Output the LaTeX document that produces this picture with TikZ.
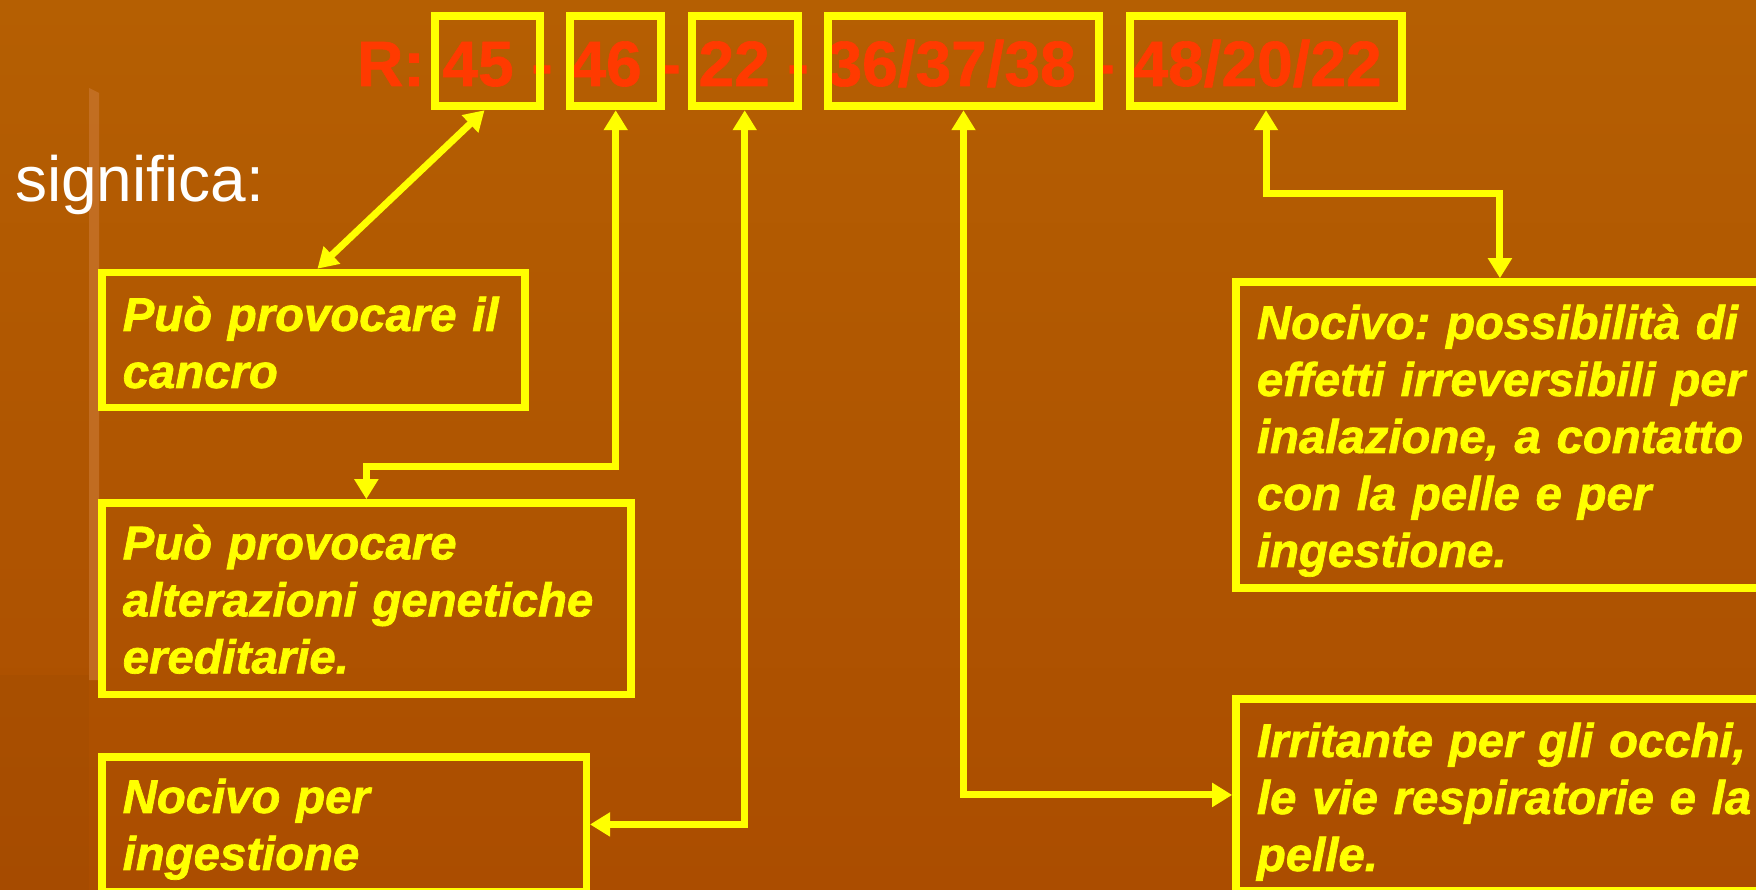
\documentclass[tikz,border=0pt]{standalone}
\usepackage{fontspec}
\setmainfont{Liberation Sans}[BoldFont={Liberation Sans Bold}, ItalicFont={Liberation Sans Italic}, BoldItalicFont={Liberation Sans Bold Italic}]
\newfontfamily\boxfont{Liberation Sans Bold Italic}[FakeBold=1.5]
\newfontfamily\codefont{Liberation Sans Bold}[FakeBold=1]
\usetikzlibrary{arrows.meta}
\definecolor{bgtop}{HTML}{B55F02}
\definecolor{bgbot}{HTML}{AB4D00}
\definecolor{ylw}{HTML}{FFFF00}
\definecolor{rcode}{HTML}{FF3A00}
\definecolor{stripe}{HTML}{C8742C}
\tikzset{
  codebox/.style={draw=ylw, line width=8pt, minimum height=90.5pt, inner sep=0pt},
  descbox/.style={draw=ylw, line width=7.5pt, align=left, inner xsep=21pt, inner ysep=0pt,
    anchor=north west, text=ylw, font=\boxfont\fontsize{47.3}{57}\selectfont\frenchspacing},
  link/.style={draw=ylw, line width=7pt,
    {Triangle[length=20pt,width=23pt]}-{Triangle[length=20pt,width=23pt]}}
}
\begin{document}
\begin{tikzpicture}[x=1pt,y=-1pt]
\useasboundingbox (0,0) rectangle (1756,890);
% background
\shade[top color=bgtop, bottom color=bgbot] (0,0) rectangle (1756,890);
\fill[black, opacity=0.025] (0,675) rectangle (89,890);
\fill[stripe, opacity=0.75] (89,88) -- (99,93) -- (99,680) -- (89,680) -- cycle;

% title line
\node[anchor=base west, inner sep=0pt, text=rcode,
      font=\codefont\fontsize{64}{64}\selectfont] (code) at (357,86)
      {R: 45 - 46 - 22 - 36/37/38 - 48/20/22};
\node[anchor=base west, inner sep=0pt, text=white,
      font=\fontsize{64}{64}\selectfont] (sig) at (15,201.7) {significa:};

% code boxes
\node[codebox, minimum width=105pt]   (b45) at (487.5,61) {};
\node[codebox, minimum width=91pt]    (b46) at (615.7,61) {};
\node[codebox, minimum width=106pt]   (b22) at (744.7,61) {};
\node[codebox, minimum width=271.5pt] (b36) at (963.5,61) {};
\node[codebox, minimum width=271.6pt] (b48) at (1266,61) {};

% description boxes
\node[descbox, text width=381.4pt, text height=58.5pt, text depth=76.7pt] (A) at (98,268.7)
  {\mbox{Può provocare il}\\\mbox{cancro}};
\node[descbox, text width=487.2pt, text height=56.4pt, text depth=135.1pt] (B) at (98,499.2)
  {\mbox{Può provocare}\\\mbox{alterazioni genetiche}\\\mbox{ereditarie.}};
\node[descbox, text width=442.5pt, text height=56pt, text depth=79pt] (C) at (98,753.2)
  {\mbox{Nocivo per}\\\mbox{ingestione}};
\node[descbox, text width=486pt, text height=57pt, text depth=249pt] (D) at (1232.2,278.2)
  {\mbox{Nocivo: possibilità di}\\\mbox{effetti irreversibili per}\\\mbox{inalazione, a contatto}\\\mbox{con la pelle e per}\\\mbox{ingestione.}};
\node[descbox, text width=486pt, text height=58pt, text depth=134pt] (E) at (1232.2,695.2)
  {\mbox{Irritante per gli occhi,}\\\mbox{le vie respiratorie e la}\\\mbox{pelle.}};

% connectors
\coordinate (y46) at (0,466.7);
\coordinate (y48) at (0,193.7);
\draw[link] ([xshift=-3pt]b45.south) -- ([xshift=4pt]A.north);
\draw[link] (b46.south) |- (B.north |- y46) -- (B.north);
\draw[link] (b22.south) |- (C.east);
\draw[link] (b36.south) |- (E.west);
\draw[link] (b48.south) |- (D.north |- y48) -- (D.north);
\end{tikzpicture}
\end{document}
